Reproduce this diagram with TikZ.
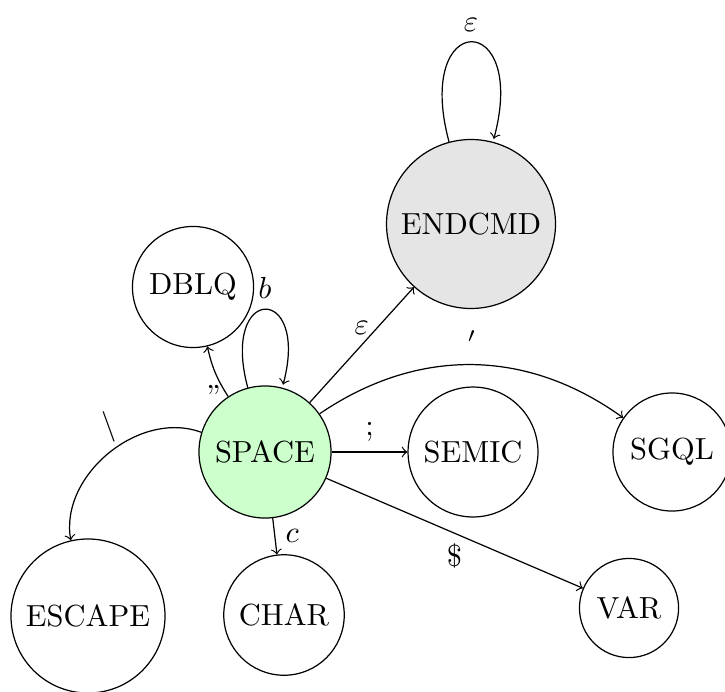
\documentclass[tikz,border=0pt]{standalone}
\begin{document}
\begin{tikzpicture}[x=0.32787pt,y=0.32787pt,
  state/.style={circle,draw,inner sep=0pt},
  startstate/.style={state,fill=green!20},
  finalstate/.style={state,fill=gray!20},
  trans/.style={->}]
\useasboundingbox (0,0) rectangle (725,691);
\node[finalstate,minimum size=55.4pt] (ENDCMD) at (471,467) {ENDCMD};
\node[state,minimum size=39.7pt] (DBLQ) at (193,404) {DBLQ};
\node[startstate,minimum size=43.3pt] (SPACE) at (265,239) {SPACE};
\node[state,minimum size=42.6pt] (SEMIC) at (473,239) {SEMIC};
\node[state,minimum size=38.7pt] (SGQL) at (672,239) {SGQL};
\node[state,minimum size=50.5pt] (ESCAPE) at (88,75) {ESCAPE};
\node[state,minimum size=39.5pt] (CHAR) at (284,76) {CHAR};
\node[state,minimum size=32.5pt] (VAR) at (629,83) {VAR};

\path[trans] (ENDCMD) edge[loop above] node[above] {$\varepsilon$} ();
\path[trans] (SPACE) edge[loop above] node[above] {$b$} ();
\draw[trans] (SPACE) to[bend left=10] node[pos=0.12,left,inner sep=1pt] {,,} (DBLQ);
\draw[trans] (SPACE) to node[above] {$\varepsilon$} (ENDCMD);
\draw[trans] (SPACE) to[bend left=35] node[above] {$'$} (SGQL);
\draw[trans] (SPACE) to node[above] {;} (SEMIC);
\draw[trans] (SPACE) to node[below] {\$} (VAR);
\draw[trans] (SPACE) to node[right] {$c$} (CHAR);
\draw[trans] (SPACE) to[bend right=60] node[above] {$\backslash$} (ESCAPE);
\end{tikzpicture}
\end{document}
